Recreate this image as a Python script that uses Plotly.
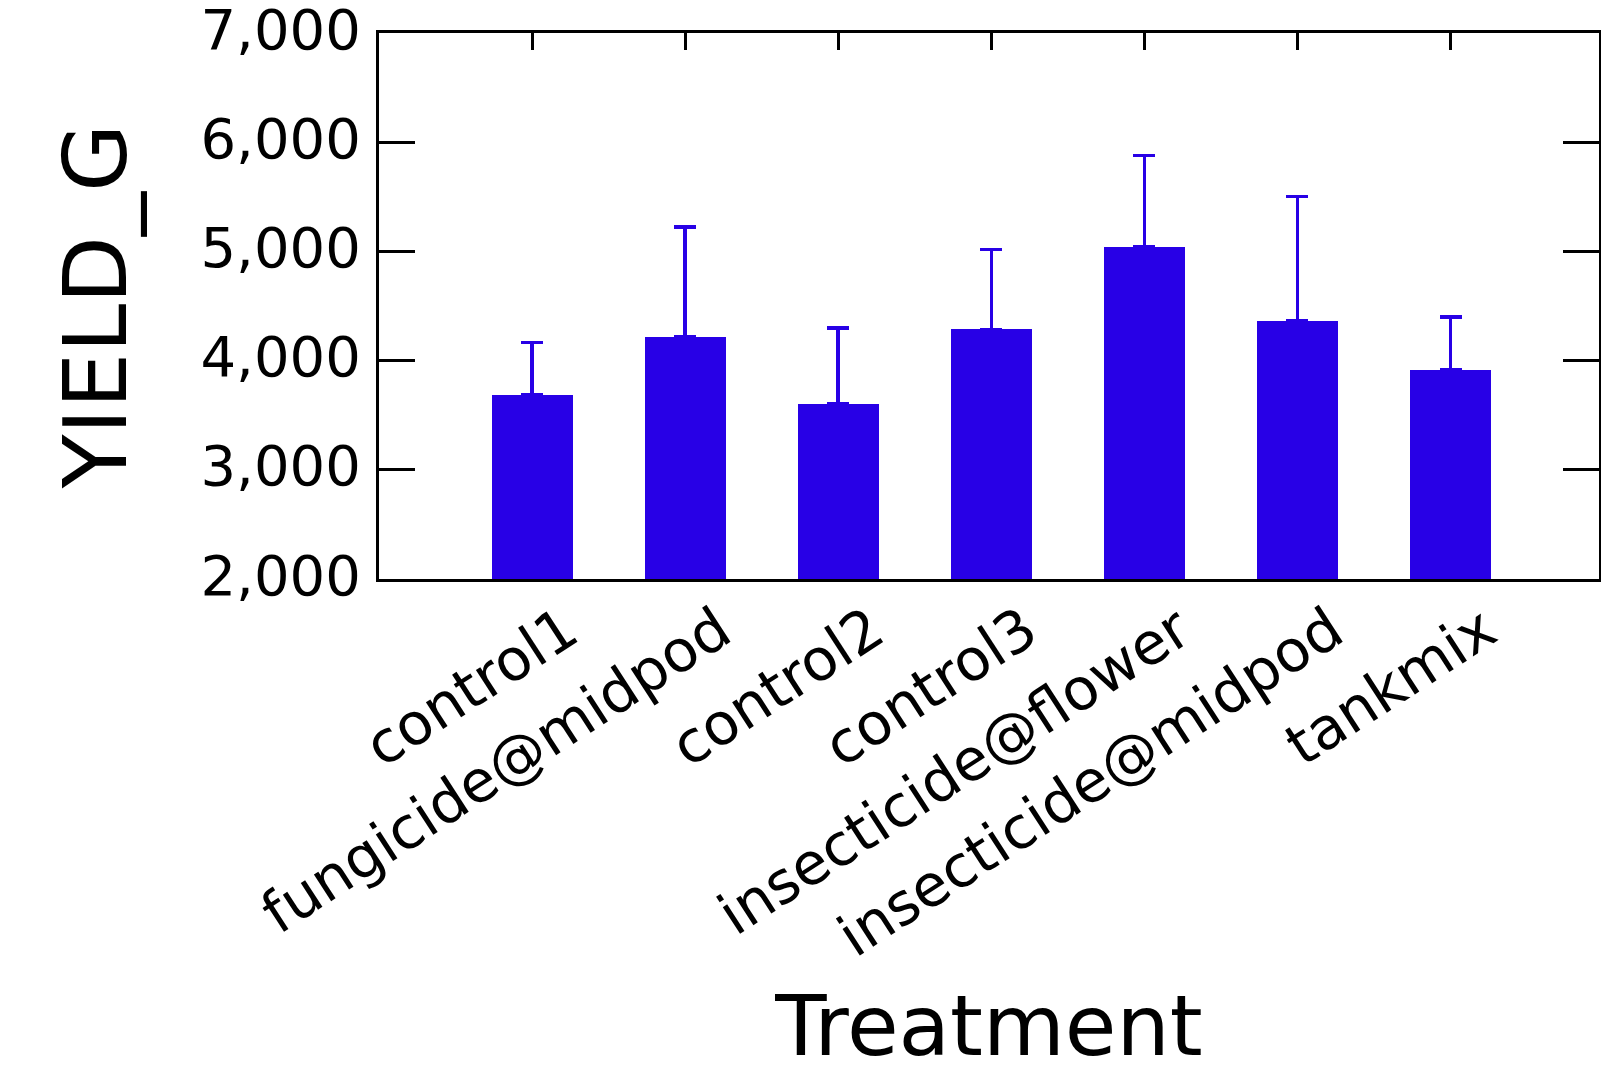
import plotly.graph_objects as go

categories = ["control1", "fungicide@midpod", "control2", "control3",
              "insecticide@flower", "insecticide@midpod", "tankmix"]
yield_mean = [3683, 4214, 3607, 4287, 5041, 4361, 3914]
yield_err = [483, 1009, 691, 731, 837, 1142, 487]
y_ticks = [2000, 3000, 4000, 5000, 6000, 7000]

BLUE = "#2800e6"
FONT = "DejaVu Sans"

fig = go.Figure()
fig.add_trace(go.Bar(
    x=list(range(len(categories))),
    y=[v - 2000 for v in yield_mean],
    base=2000,
    width=0.53,
    marker=dict(color=BLUE, line=dict(width=0)),
    error_y=dict(type="data", array=yield_err, symmetric=False,
                 arrayminus=[0] * len(yield_err),
                 color=BLUE, thickness=3.5, width=11),
    hoverinfo="x+y",
))

fig.update_layout(
    width=1601, height=1075,
    margin=dict(l=379, r=2, t=33, b=496),
    paper_bgcolor="white", plot_bgcolor="white",
    showlegend=False,
    font=dict(family=FONT, color="black"),
    bargap=0,
)
fig.update_xaxes(
    range=[-1, 6.97],
    automargin=False,
    tickmode="array",
    tickvals=list(range(len(categories))),
    ticktext=categories,
    tickangle=-33,
    tickfont=dict(size=58, family=FONT, color="black"),
    ticklabelshift=34,
    ticklabelstandoff=-8,
    ticklabeloverflow="allow",
    ticks="inside", ticklen=17, tickwidth=3, tickcolor="black",
    showline=True, linecolor="black", linewidth=3, mirror="ticks",
    showgrid=False, zeroline=False,
    layer="below traces",
    title=dict(text="Treatment", font=dict(size=84, family=FONT, color="black"),
               standoff=28),
)
fig.update_yaxes(
    range=[2000, 7000],
    automargin=False,
    tickmode="array",
    tickvals=y_ticks,
    tickformat=",",
    tickfont=dict(size=56, family=FONT, color="black"),
    ticklabeloverflow="allow",
    ticklabelshift=-4,
    ticks="inside", ticklen=36, tickwidth=3, tickcolor="black",
    showline=True, linecolor="black", linewidth=3, mirror="ticks",
    showgrid=False, zeroline=False,
    ticklabelstandoff=4,
    title=dict(text="YIELD_G", font=dict(size=88, family=FONT, color="black"),
               standoff=45),
)

fig.write_html(
    "out.html",
    config={"displayModeBar": False},
    post_script="document.body.style.margin='0';document.body.style.overflow='hidden';",
)
